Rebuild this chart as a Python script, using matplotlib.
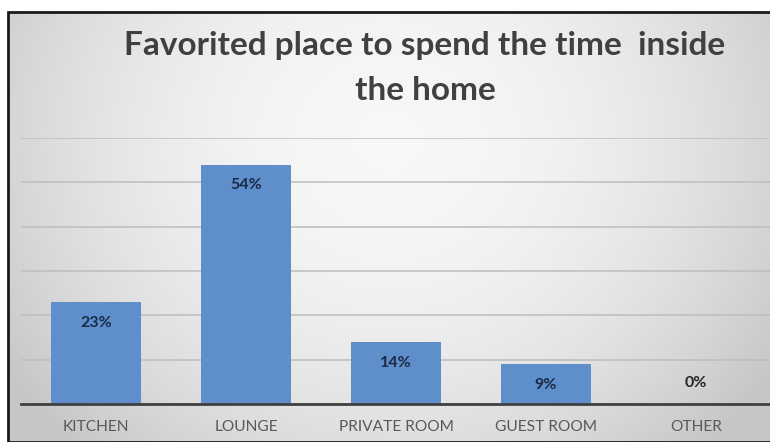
import matplotlib.pyplot as plt
import numpy as np
from matplotlib.patches import Rectangle

# chart data
categories = ['KITCHEN', 'LOUNGE', 'PRIVATE ROOM', 'GUEST ROOM', 'OTHER']
values = [23, 54, 14, 9, 0]
title_lines = ['Favorited place to spend the time  inside', 'the home']

W, H = 770, 442
fig = plt.figure(figsize=(W / 100, H / 100), dpi=100)
fig.patch.set_facecolor('white')

# gray radial-ish background inside the frame
bx0, by0 = 8 / W, 0.0
bw, bh = 1 - bx0, (H - 12) / H
bg = fig.add_axes([bx0, by0, bw, bh])
yy, xx = np.mgrid[0:1:200j, 0:1:300j]
r = np.sqrt(((xx - 0.5) / 0.55) ** 2 + ((yy - 0.3) / 0.9) ** 2)
shade = 0.97 - 0.16 * r ** 2
shade = np.clip(shade, 0.78, 0.975)
bg.imshow(np.dstack([shade] * 3), aspect='auto', extent=[0, 1, 0, 1], origin='upper')
bg.set_axis_off()

# frame (left and top only visible)
fig.patches.append(Rectangle((bx0, by0), bw + 0.01, bh, transform=fig.transFigure,
                             fill=False, edgecolor='#1a1a1a', linewidth=2, zorder=10))

ax = fig.add_axes([21 / W, (H - 404) / H, 750 / W, 266 / H])
ax.set_facecolor('none')
x = np.arange(len(categories))
ax.bar(x, values, width=0.6, color='#5f8fcb', zorder=3)
ax.set_xlim(-0.5, len(categories) - 0.5)
ax.set_ylim(0, 60)
ax.set_yticks(np.arange(0, 61, 10))
ax.yaxis.grid(True, color='#bdbdbd', linewidth=1.1, zorder=0)
ax.tick_params(axis='y', left=False, labelleft=False)
ax.tick_params(axis='x', bottom=False, pad=8)
ax.set_xticks(x)
ax.set_xticklabels(categories, fontsize=11.2, color='#595959', family='Lato')
for s in ['top', 'right', 'left']:
    ax.spines[s].set_visible(False)
ax.spines['bottom'].set_color('#404040')
ax.spines['bottom'].set_linewidth(2)
ax.spines['bottom'].set_zorder(4)

for xi, v in zip(x, values):
    off = -15 if v > 0 else 15
    ax.annotate('{}%'.format(v), (xi, v), xytext=(0, off), textcoords='offset points',
                ha='center', va='center', fontsize=11.5, fontweight='bold',
                color='#1c2a45' if v > 0 else '#262626', family='Lato', zorder=5)

# two-line title
for line, ypix in zip(title_lines, [55, 100]):
    fig.text(425 / W, 1 - ypix / H, line, ha='center', va='baseline', fontsize=24,
             fontweight='bold', color='#404040', family='Lato')

plt.savefig('out.png', dpi=100)
